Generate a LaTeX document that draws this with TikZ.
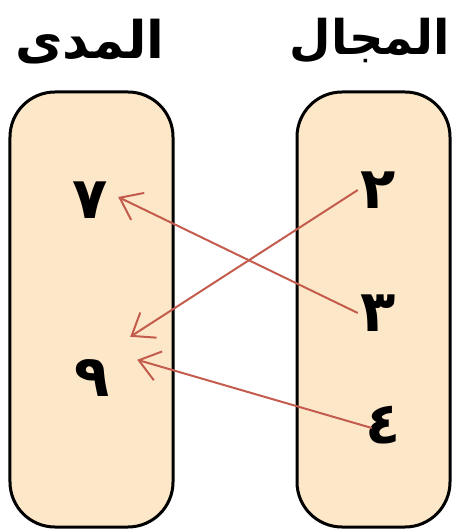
\documentclass[tikz,border=0pt]{standalone}
\usepackage{fontspec}
\newfontfamily\arabicfont[Script=Arabic]{DejaVu Sans}
\TeXXeTstate=1
\usetikzlibrary{arrows.meta}
\definecolor{boxfill}{RGB}{252,232,200}
\definecolor{arrowred}{RGB}{196,92,78}
\tikzset{
  setbox/.style={draw=black, line width=3bp, fill=boxfill, rounded corners=45bp, minimum width=#1, minimum height=435bp, inner sep=0pt},
  numnode/.style={inner sep=0pt, minimum width=40bp, minimum height=48bp, font=\arabicfont\bfseries\fontsize{58}{64}\selectfont},
  titlenode/.style={inner sep=0pt, font=\arabicfont\bfseries\fontsize{#1}{60}\selectfont},
  maparrow/.style={draw=arrowred, line width=2bp, -{Straight Barb[length=20bp, width=30bp, line width=2bp]}}
}
\begin{document}
\begin{tikzpicture}[x=1bp, y=-1bp]
\useasboundingbox (0,0) rectangle (457,530);
\node[setbox=163bp] (rangebox) at (91.5,309.5) {};
\node[setbox=153bp] (domainbox) at (373.5,309.5) {};
\node[titlenode=52] (rangetitle) at (90,42) {\beginR المدى\endR};
\node[titlenode=48] (domaintitle) at (370,41) {\beginR المجال\endR};
\node[numnode] (n7) at (90,200) {\beginR ٧\endR};
\node[numnode] (n9) at (92,378) {\beginR ٩\endR};
\node[numnode] (n2) at (378,190) {\beginR ٢\endR};
\node[numnode] (n3) at (378,313) {\beginR ٣\endR};
\node[numnode] (n4) at (383,425) {\beginR ٤\endR};
\draw[maparrow] (n3.west) -- ([xshift=8bp,yshift=3bp]n7.east);
\draw[maparrow] (n2.west) -- ([xshift=18bp,yshift=17bp]n9.north east);
\draw[maparrow] ([xshift=9bp,yshift=-3bp]n4.west) -- ([xshift=25bp,yshift=-6bp]n9.north east);
\end{tikzpicture}
\end{document}
